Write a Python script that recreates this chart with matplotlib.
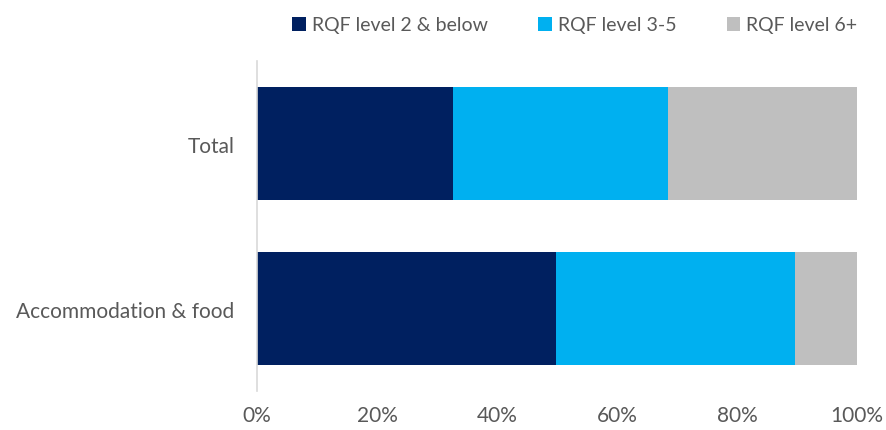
import matplotlib
matplotlib.use("Agg")
import matplotlib.pyplot as plt
from matplotlib.ticker import PercentFormatter

categories = ["Total", "Accommodation & food"]
series_names = ["RQF level 2 & below", "RQF level 3-5", "RQF level 6+"]
level2 = [32.6, 49.8]
level35 = [35.9, 39.8]
level6 = [31.5, 10.4]
colors = ["#002060", "#00B0F0", "#BFBFBF"]
xticks = [0, 20, 40, 60, 80, 100]

plt.rcParams['font.family'] = ['Lato', 'DejaVu Sans']
fig = plt.figure(figsize=(8.87, 4.31), dpi=100)
ax = fig.add_axes([0.2897, 0.0905, 0.6764, 0.7655])

ypos = list(range(len(categories)))
left = [0] * len(categories)
for vals, name, c in zip([level2, level35, level6], series_names, colors):
    ax.barh(ypos, vals, left=left, height=0.68, color=c, label=name)
    left = [l + v for l, v in zip(left, vals)]

ax.set_ylim(1.5, -0.5)
ax.set_xlim(0, 100)
ax.set_xticks(xticks)
ax.xaxis.set_major_formatter(PercentFormatter(decimals=0))
ax.set_yticks(ypos)
ax.set_yticklabels(categories)
for s in ["top", "right", "bottom"]:
    ax.spines[s].set_visible(False)
ax.spines["left"].set_color("#D9D9D9")
ax.spines["left"].set_linewidth(1.2)
ax.tick_params(axis="x", length=0, pad=10, labelsize=15, labelcolor="#595959")
ax.tick_params(axis="y", length=0, pad=16, labelsize=15, labelcolor="#595959")

leg = fig.legend(loc="upper center", bbox_to_anchor=(0.648, 1.0), ncol=3, frameon=False,
                 fontsize=14, handlelength=0.7, handleheight=0.7, handletextpad=0.3,
                 columnspacing=2.6, labelcolor="#595959")

fig.savefig("out.png", dpi=100)
